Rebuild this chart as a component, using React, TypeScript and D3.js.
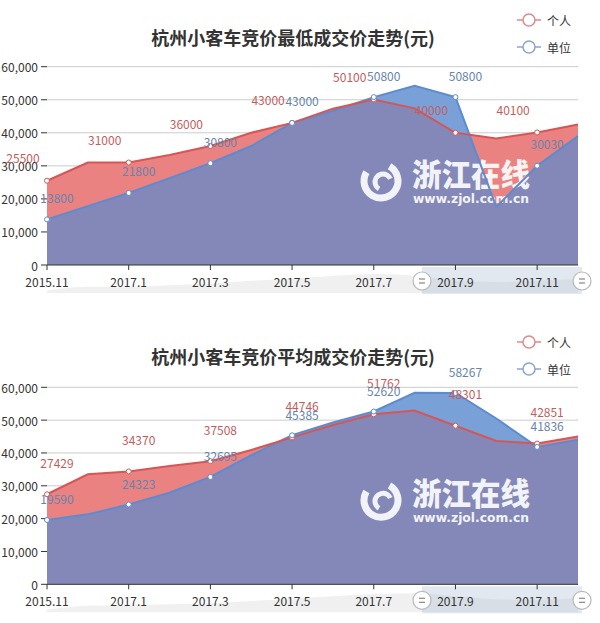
import React from 'react';
import * as d3 from 'd3';

const categories = ['2015.11', '2016.12', '2017.1', '2017.2', '2017.3', '2017.4', '2017.5', '2017.6', '2017.7', '2017.8', '2017.9', '2017.10', '2017.11', '2017.12'];
const minPersonal = [25500, 31000, 31000, 33300, 36000, 40000, 43000, 47300, 50100, 47400, 40000, 38300, 40100, 42500];
const minUnit = [13800, 17800, 21800, 26300, 30800, 36000, 43000, 46600, 50800, 54200, 50800, 17600, 30030, 39000];
const avgPersonal = [27429, 33500, 34370, 36000, 37508, 40900, 44746, 48500, 51762, 52900, 48301, 43650, 42851, 45000];
const avgUnit = [19590, 21300, 24323, 27900, 32695, 39300, 45385, 49300, 52620, 58350, 58267, 50500, 41836, 44000];
const yTicks = [0, 10000, 20000, 30000, 40000, 50000, 60000];
const legendNames = ['个人', '单位'];
const titleMin = '杭州小客车竞价最低成交价走势(元)';
const titleAvg = '杭州小客车竞价平均成交价走势(元)';

const FONT = '"Noto Sans CJK SC", "Noto Sans", sans-serif';
const RED_FILL = '#ea8282';
const BLUE_FILL = '#79a1d8';
const MIX_FILL = '#8488b8';
const RED_LINE = '#d65656';
const BLUE_LINE = '#5d8bd0';
const RED_LABEL = '#c35d5d';
const BLUE_LABEL = '#6684ae';

type PanelProps = {
  id: string;
  title: string;
  personal: number[];
  unit: number[];
  axisY: number;
  topY: number;
  titleY: number;
  leg1Y: number;
  leg2Y: number;
  redDx: number;
  redDy: number;
  blueDx: number;
  blueDy: number;
};

function Watermark({ cy }: { cy: number }) {
  const cx = 381;
  return (
    <g opacity={0.9} fill="#fff">
      <circle cx={cx} cy={cy} r={17} fill="none" stroke="#fff" strokeWidth={7}
        strokeDasharray="80 27" transform={`rotate(-60 ${cx} ${cy})`} />
      <circle cx={cx + 2} cy={cy + 1} r={8} fill="none" stroke="#fff" strokeWidth={5}
        strokeDasharray="30 20" transform={`rotate(120 ${cx + 2} ${cy + 1})`} />
      <text x={412} y={cy + 5} fontFamily={FONT} fontWeight={900} fontSize={31}
        textLength={118} lengthAdjust="spacingAndGlyphs">浙江在线</text>
      <text x={413} y={cy + 22} fontFamily={'"DejaVu Sans", sans-serif'} fontWeight={700} fontSize={12.5}
        textLength={116} lengthAdjust="spacingAndGlyphs">www.zjol.com.cn</text>
    </g>
  );
}

function Panel(p: PanelProps) {
  const x = d3.scalePoint<string>().domain(categories).range([47, 578]);
  const y = d3.scaleLinear().domain([0, 60000]).range([p.axisY, p.topY]);
  const area = d3.area<number>()
    .x((_, i) => x(categories[i]) as number)
    .y0(p.axisY)
    .y1((d) => y(d));
  const line = d3.line<number>()
    .x((_, i) => x(categories[i]) as number)
    .y((d) => y(d));
  const sTop = p.axisY + 3;
  const sBot = p.axisY + 28;
  const ys = d3.scaleLinear().domain([d3.min(p.personal)! * 0.85, d3.max(p.personal)!]).range([sBot, sTop + 6]);
  const shadow = d3.area<number>()
    .x((_, i) => x(categories[i]) as number)
    .y0(sBot)
    .y1((d) => ys(d))
    .curve(d3.curveMonotoneX);
  const even = categories.map((_, i) => i).filter((i) => i % 2 === 0);
  const handleY = p.axisY + 16;
  const handles = [422, 582];
  return (
    <g>
      <defs>
        <clipPath id={`clip-${p.id}`}>
          <path d={area(p.personal) || ''} />
        </clipPath>
      </defs>
      <text x={293} y={p.titleY} textAnchor="middle" dominantBaseline="central" fontFamily={FONT}
        fontWeight={700} fontSize={18} fill="#333">{p.title}</text>
      {legendNames.map((name, i) => {
        const ly = i === 0 ? p.leg1Y : p.leg2Y;
        const c = i === 0 ? '#e08a8a' : '#8aa6cf';
        return (
          <g key={name}>
            <line x1={517} x2={541} y1={ly} y2={ly} stroke={c} strokeWidth={1.5} />
            <circle cx={529} cy={ly} r={6} fill="#fff" stroke={c} strokeWidth={1.5} />
            <text x={547} y={ly} dominantBaseline="central" fontFamily={FONT} fontSize={12} fill="#333">{name}</text>
          </g>
        );
      })}
      {yTicks.map((t) => (
        <g key={t}>
          {t > 0 && <line x1={47} x2={578} y1={y(t)} y2={y(t)} stroke="#ccc" strokeWidth={1} />}
          <line x1={41} x2={47} y1={y(t)} y2={y(t)} stroke="#333" strokeWidth={1} />
          <text x={38} y={y(t)} textAnchor="end" dominantBaseline="central" fontFamily={FONT} fontSize={12} fill="#333">
            {d3.format(',')(t)}
          </text>
        </g>
      ))}
      <path d={area(p.personal) || ''} fill={RED_FILL} />
      <path d={area(p.unit) || ''} fill={BLUE_FILL} />
      <path d={area(p.unit) || ''} fill={MIX_FILL} clipPath={`url(#clip-${p.id})`} />
      <Watermark cy={p.axisY - 84} />
      <path d={line(p.unit) || ''} fill="none" stroke={BLUE_LINE} strokeWidth={2} />
      <path d={line(p.personal) || ''} fill="none" stroke={RED_LINE} strokeWidth={2} />
      {even.map((i) => (
        <g key={i}>
          <circle cx={x(categories[i])} cy={y(p.personal[i])} r={2.5} fill="#fff" stroke={RED_LINE} strokeWidth={1} />
          <circle cx={x(categories[i])} cy={y(p.unit[i])} r={2.5} fill="#fff" stroke={BLUE_LINE} strokeWidth={1} />
          <text x={(x(categories[i]) as number) + p.redDx} y={y(p.personal[i]) + p.redDy} textAnchor="middle"
            dominantBaseline="central" fontFamily={FONT} fontSize={12} fill={RED_LABEL}>{p.personal[i]}</text>
          <text x={(x(categories[i]) as number) + p.blueDx} y={y(p.unit[i]) + p.blueDy} textAnchor="middle"
            dominantBaseline="central" fontFamily={FONT} fontSize={12} fill={BLUE_LABEL}>{p.unit[i]}</text>
        </g>
      ))}
      <path d={shadow(p.personal) || ''} fill="#e6e6e6" opacity={0.6} />
      <rect x={422} y={sTop - 1} width={160} height={sBot - sTop + 2} fill="rgba(170,188,210,0.35)" />
      <line x1={47} x2={578} y1={p.axisY} y2={p.axisY} stroke="#333" strokeWidth={1} />
      {even.map((i) => (
        <g key={`t${i}`}>
          <line x1={x(categories[i])} x2={x(categories[i])} y1={p.axisY} y2={p.axisY + 5} stroke="#333" />
          <text x={x(categories[i])} y={p.axisY + 16} textAnchor="middle" dominantBaseline="central"
            fontFamily={FONT} fontSize={12} fill="#333">{categories[i]}</text>
        </g>
      ))}
      {handles.map((hx) => (
        <g key={hx}>
          <circle cx={hx} cy={handleY} r={9} fill="#fff" stroke="#b8b8b8" strokeWidth={1.2} />
          <line x1={hx - 3} x2={hx + 3} y1={handleY - 2} y2={handleY - 2} stroke="#888" strokeWidth={1.2} />
          <line x1={hx - 3} x2={hx + 3} y1={handleY + 2} y2={handleY + 2} stroke="#888" strokeWidth={1.2} />
        </g>
      ))}
    </g>
  );
}

export default function App() {
  return (
    <svg width={600} height={623} style={{ position: 'absolute', left: 0, top: 0, background: '#fff' }}>
      <rect width={600} height={623} fill="#fff" />
      <Panel id="min" title={titleMin} personal={minPersonal} unit={minUnit}
        axisY={265} topY={66.7} titleY={37} leg1Y={20} leg2Y={47}
        redDx={-24} redDy={-23} blueDx={10} blueDy={-22} />
      <Panel id="avg" title={titleAvg} personal={avgPersonal} unit={avgUnit}
        axisY={584.3} topY={387.3} titleY={356} leg1Y={342} leg2Y={369}
        redDx={10} redDy={-32} blueDx={10} blueDy={-21} />
    </svg>
  );
}
